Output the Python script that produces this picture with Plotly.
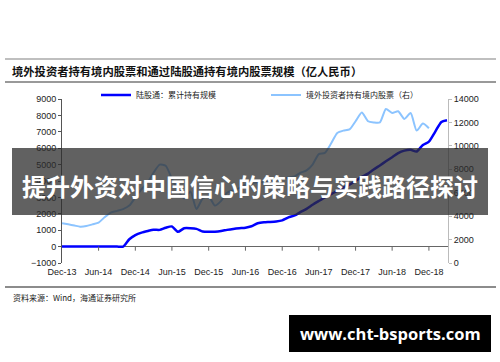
import plotly.graph_objects as go
import pandas as pd

# ---------------- data ----------------
months = pd.date_range("2013-12-01", periods=64, freq="MS").strftime("%Y-%m-15").tolist()

connect_holdings = [  # 陆股通：累计持有规模 (left axis)
    0, 0, 0, 0, 0, 0, 0, 0, 0, 0, 0,
    450, 700, 850, 950, 1030, 1020, 1150, 1230, 900, 1120, 1120, 1080, 920,
    900, 910, 950, 1020, 1080, 1120, 1150, 1240, 1420, 1480, 1500, 1530,
    1600, 1780, 1900, 2100, 2300, 2550, 2780, 3000, 3200, 3400, 3600, 3780,
    4000, 4250, 4450, 4700, 4950, 5200, 5450, 5700, 5850, 5900, 5800, 6200,
    6400, 7000, 7600, 7700,
]

foreign_holdings = [  # 境外投资者持有境内股票（右）
    3400, 3300, 3200, 3100, 3150, 3300, 3450, 3900, 4300, 4450, 4600, 4900,
    5600, 6300, 6900, 7700, 8400, 8300, 7200, 6200, 5500, 6100, 4600, 5500,
    5700, 4900, 5300, 6000, 6200, 6400, 6700, 6800, 6900, 6900, 7000, 7100,
    7200, 7300, 7400, 7700, 7900, 8400, 9300, 9400, 10200, 11100, 11300, 11400,
    12100, 12850, 12100, 12000, 12000, 13150, 12800, 12950, 12300, 12800, 11300, 11900,
    11500,
]

tick_dates = ["2013-12-15", "2014-06-15", "2014-12-15", "2015-06-15", "2015-12-15",
              "2016-06-15", "2016-12-15", "2017-06-15", "2017-12-15", "2018-06-15",
              "2018-12-15"]
tick_labels = ["Dec-13", "Jun-14", "Dec-14", "Jun-15", "Dec-15", "Jun-16",
               "Dec-16", "Jun-17", "Dec-17", "Jun-18", "Dec-18"]

left_ticks = list(range(-1000, 9001, 1000))
right_ticks = list(range(0, 14001, 2000))

title_text = "境外投资者持有境内股票和通过陆股通持有境内股票规模（亿人民币）"
source_text = "资料来源：Wind，海通证券研究所"
banner_text = "提升外资对中国信心的策略与实践路径探讨"
site_text = "www.cht-bsports.com"

# ---------------- layout helpers ----------------
W, H = 500, 362
L, R, T, B = 62, 448, 99, 263


def px(x):
    return (x - L) / (R - L)


def py(y):
    return (B - y) / (B - T)


fig = go.Figure()
fig.add_trace(go.Scatter(
    x=months[:len(connect_holdings)], y=connect_holdings, mode="lines",
    name="陆股通：累计持有规模", line=dict(color="#0000ff", width=2.5, shape="spline", smoothing=0.6),
    yaxis="y"))
fig.add_trace(go.Scatter(
    x=months[:len(foreign_holdings)], y=foreign_holdings, mode="lines",
    name="境外投资者持有境内股票（右）", line=dict(color="#8cc4ff", width=2, shape="spline", smoothing=0.6),
    yaxis="y2"))

shapes = []
# x-axis tick marks on zero line
for d in tick_dates[1:]:
    shapes.append(dict(type="line", xref="x", yref="y", x0=d, x1=d, y0=0, y1=-250,
                       line=dict(color="#666", width=1)))
# horizontal rules
shapes += [
    dict(type="line", xref="paper", yref="paper", x0=px(5), x1=px(496), y0=py(59), y1=py(59),
         line=dict(color="#aaaaaa", width=1.5)),
    dict(type="line", xref="paper", yref="paper", x0=px(5), x1=px(496), y0=py(82), y1=py(82),
         line=dict(color="#777777", width=1.5)),
    dict(type="line", xref="paper", yref="paper", x0=px(5), x1=px(496), y0=py(287), y1=py(287),
         line=dict(color="#666666", width=1.5)),
    # banner
    dict(type="rect", xref="paper", yref="paper", x0=px(12), x1=px(488), y0=py(215), y1=py(148),
         fillcolor="rgba(44,44,44,0.75)", line=dict(width=0), layer="above"),
    # site box
    dict(type="rect", xref="paper", yref="paper", x0=px(289), x1=px(491), y0=py(352), y1=py(315),
         fillcolor="#000000", line=dict(width=0), layer="above"),
]

annotations = [
    dict(text="<b>" + title_text + "</b>", xref="paper", yref="paper", x=px(10), y=py(71),
         xanchor="left", yanchor="middle", showarrow=False,
         font=dict(family="Noto Sans CJK SC", size=11.3, color="#111"), ),
    dict(text=source_text, xref="paper", yref="paper", x=px(11), y=py(297), xanchor="left",
         yanchor="middle", showarrow=False,
         font=dict(family="Noto Sans CJK SC", size=8, color="#222")),
    dict(text="<b>" + banner_text + "</b>", xref="paper", yref="paper", x=px(250), y=py(185),
         xanchor="center", yanchor="middle", showarrow=False,
         font=dict(family="Noto Sans CJK SC", size=24, color="#ffffff")),
    dict(text="<b>" + site_text + "</b>", xref="paper", yref="paper", x=px(390), y=py(333),
         xanchor="center", yanchor="middle", showarrow=False,
         font=dict(family="Open Sans", size=16.5, color="#ffffff")),
]

fig.update_layout(
    width=W, height=H,
    margin=dict(l=L, r=W - R, t=T, b=H - B, pad=0),
    paper_bgcolor="white", plot_bgcolor="white",
    showlegend=True,
    legend=dict(orientation="h", x=px(96), y=py(95), xanchor="left", yanchor="middle",
                entrywidth=125, entrywidthmode="pixels", bgcolor="rgba(0,0,0,0)",
                font=dict(family="Noto Sans CJK SC", size=8, color="#222"),
                itemwidth=30, tracegroupgap=0),
    xaxis=dict(type="date", range=["2013-12-15", "2019-03-20"], tickvals=tick_dates,
               ticktext=tick_labels, ticks="", showline=False, showgrid=False, zeroline=False,
               tickfont=dict(family="Liberation Sans", size=9, color="#222"), ticklabelstandoff=2),
    yaxis=dict(range=[-1000, 9000], tickvals=left_ticks, tickformat="d", showgrid=False,
               zeroline=True, zerolinecolor="#666", zerolinewidth=1, showline=True,
               linecolor="#555", linewidth=1, ticks="outside", ticklen=3, tickcolor="#555",
               tickfont=dict(family="Liberation Sans", size=9, color="#222")),
    yaxis2=dict(range=[0, 14000], tickvals=right_ticks, tickformat="d", overlaying="y",
                side="right", showgrid=False, zeroline=False, showline=True, linecolor="#bbb",
                linewidth=1, ticks="outside", ticklen=3, tickcolor="#bbb",
                tickfont=dict(family="Liberation Sans", size=9, color="#222")),
    shapes=shapes,
    annotations=annotations,
)

fig.write_html("out.html")
